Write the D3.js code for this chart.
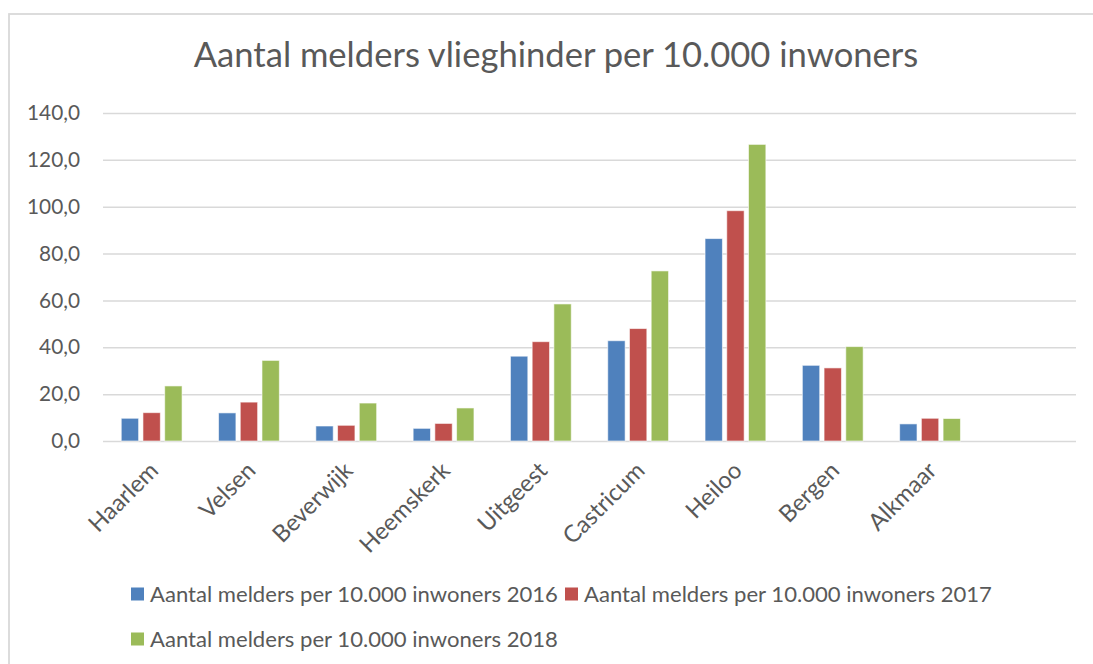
<!DOCTYPE html>
<html>
<head>
<meta charset="utf-8">
<script src="https://cdn.jsdelivr.net/npm/d3@7"></script>
<style>
  html, body { margin: 0; padding: 0; background: #fff; }
  text { font-family: Lato, "Open Sans", sans-serif; fill: #595959; }
</style>
</head>
<body>
<div id="chart"></div>
<script>
// the last (empty) slot is a blank row in the source sheet
const categories = ["Haarlem", "Velsen", "Beverwijk", "Heemskerk", "Uitgeest", "Castricum", "Heiloo", "Bergen", "Alkmaar", ""];
const series = ["Aantal melders per 10.000 inwoners 2016", "Aantal melders per 10.000 inwoners 2017", "Aantal melders per 10.000 inwoners 2018"];
const values2016 = [9.7, 12.0, 6.4, 5.4, 36.2, 42.8, 86.4, 32.3, 7.3, null];
const values2017 = [12.1, 16.6, 6.7, 7.5, 42.4, 48.0, 98.3, 31.2, 9.7, null];
const values2018 = [23.5, 34.4, 16.2, 14.1, 58.5, 72.6, 126.6, 40.3, 9.6, null];
const yTicks = [0, 20, 40, 60, 80, 100, 120, 140];
const colors = ["#4f81bd", "#c0504d", "#9bbb59"];
const title = "Aantal melders vlieghinder per 10.000 inwoners";

function drawChart() {
    const width = 1093, height = 664;
    const margin = {left: 103, right: 17, top: 113, bottom: 223};
    const svg = d3.select("#chart").append("svg").attr("width", width).attr("height", height);

    // fit a font size so a sample string gets the wanted width
    function fitSize(str, target, base) {
        const t = svg.append("text").style("font-size", base + "px").text(str);
        const w = t.node().getComputedTextLength();
        t.remove();
        return base * target / w;
    }
    const titleSize = fitSize(title, 725, 30);
    const tickSize = fitSize("140,0", 53, 20);
    const catSize = fitSize("Haarlem", 87, 20);
    const legendSize = fitSize(series[0], 408, 20);

    // chart frame (only the top and left edges are inside the picture)
    svg.append("rect").attr("x", 9).attr("y", 14).attr("width", 1200).attr("height", 800)
        .attr("fill", "none").attr("stroke", "#d9d9d9").attr("stroke-width", 1.8);

    svg.append("text").attr("x", 556).attr("y", 67).attr("text-anchor", "middle")
        .style("font-size", titleSize + "px").text(title);

    const x0 = d3.scaleBand().domain(categories).range([margin.left, width - margin.right]).padding(0);
    const x1 = d3.scaleBand().domain(series).range([0, x0.bandwidth()]).paddingInner(0.2).paddingOuter(0.84);
    const y = d3.scaleLinear().domain([0, 140]).range([height - margin.bottom, margin.top]);

    const fmt = v => d3.format(".1f")(v).replace(".", ",");
    const yAxis = svg.append("g").attr("transform", `translate(${margin.left},0)`)
        .call(d3.axisLeft(y).tickValues(yTicks).tickFormat(fmt).tickSize(-(width - margin.left - margin.right)).tickPadding(23));
    yAxis.select(".domain").remove();
    yAxis.selectAll(".tick line").attr("stroke", "#d9d9d9").attr("stroke-width", 1.5);
    yAxis.selectAll(".tick text").style("font-size", tickSize + "px").attr("fill", "#595959")
        .style("font-family", "Lato, 'Open Sans', sans-serif");

    const allValues = [values2016, values2017, values2018];
    const groups = svg.append("g").selectAll("g").data(categories).join("g")
        .attr("transform", d => `translate(${x0(d)},0)`);
    groups.selectAll("rect")
        .data((c, i) => series.map((s, k) => ({series: s, value: allValues[k][i], k})).filter(d => d.value != null))
        .join("rect")
        .attr("x", d => x1(d.series))
        .attr("width", x1.bandwidth())
        .attr("y", d => y(d.value))
        .attr("height", d => y(0) - y(d.value))
        .attr("fill", d => colors[d.k])
        .attr("stroke", "#fff").attr("stroke-opacity", 0.6).attr("stroke-width", 1);

    // rotated category labels
    svg.append("g").selectAll("text").data(categories.filter(c => c !== "")).join("text")
        .attr("text-anchor", "end")
        .attr("transform", d => `translate(${x0(d) + x0.bandwidth() / 2 + 8},${472}) rotate(-45)`)
        .style("font-size", catSize + "px")
        .text(d => d);

    // legend: two items on the first row, one on the second
    const legendPos = [[131, 594], [565, 594], [131, 639]];
    const legend = svg.append("g").selectAll("g").data(series).join("g")
        .attr("transform", (d, i) => `translate(${legendPos[i][0]},${legendPos[i][1]})`);
    legend.append("rect").attr("x", 0).attr("y", -6.5).attr("width", 13).attr("height", 13)
        .attr("fill", (d, i) => colors[i]);
    legend.append("text").attr("x", 19).attr("dy", "0.35em")
        .style("font-size", legendSize + "px").text(d => d);
}

document.addEventListener("DOMContentLoaded", () => {
    drawChart();
});
</script>
</body>
</html>
